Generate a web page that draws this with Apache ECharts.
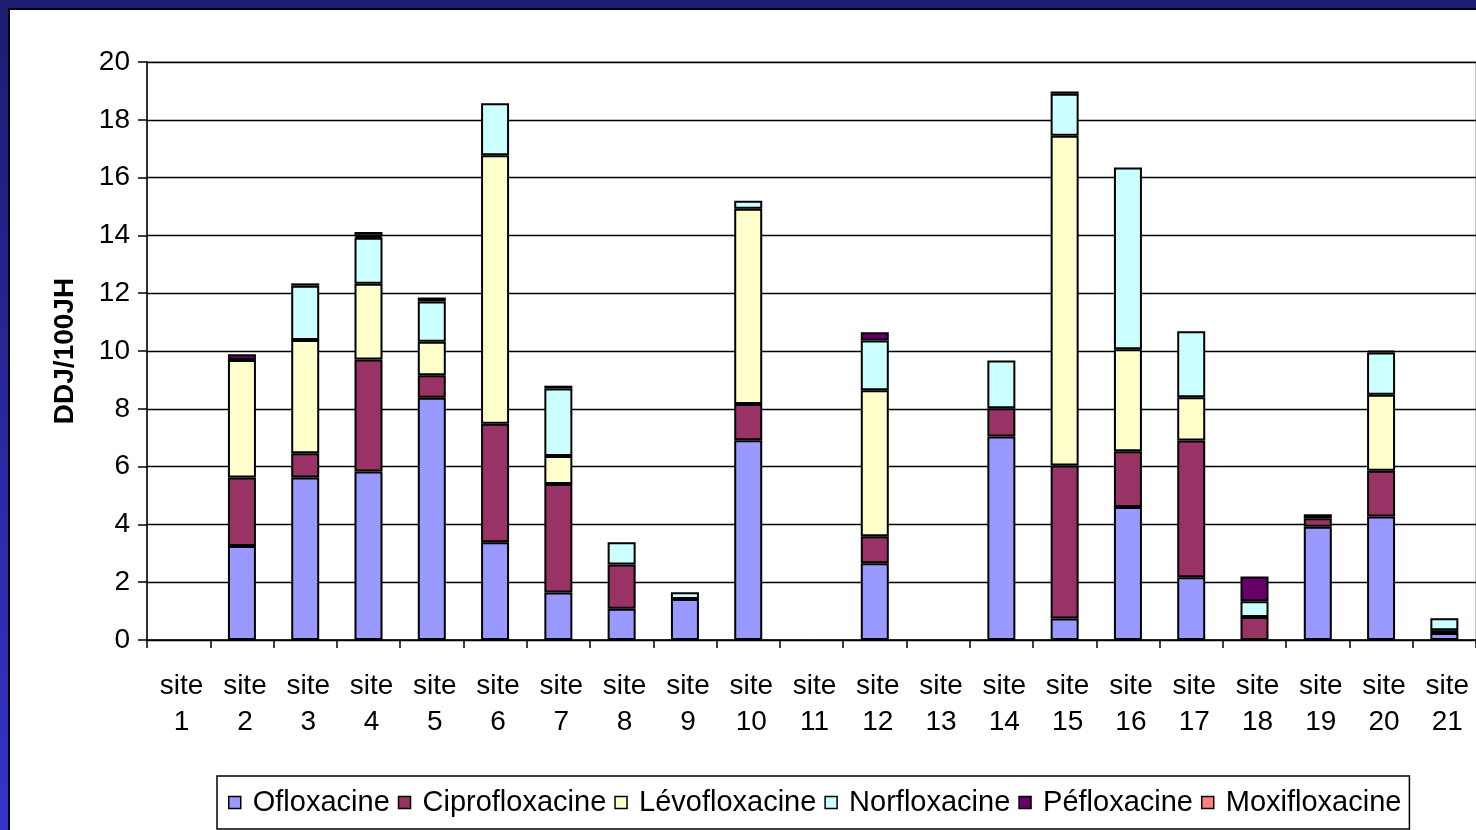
<!DOCTYPE html>
<html>
<head>
<meta charset="utf-8">
<script src="https://cdn.jsdelivr.net/npm/echarts@6/dist/echarts.min.js"></script>
<style>
  html, body { margin: 0; padding: 0; width: 1476px; height: 830px; overflow: hidden; }
  #frame { position: absolute; left: 0; top: 0; width: 1476px; height: 830px;
           background: linear-gradient(to bottom, #1c1c72 0%, #2a2aa6 60%, #3434cc 100%); }
  #sheet { position: absolute; left: 8px; top: 8px; right: 0; bottom: 0;
           border-left: 2px solid #000; border-top: 2px solid #000; background: #fff; }
  #chart { position: absolute; left: 0; top: 0; width: 1476px; height: 830px; }
</style>
</head>
<body>
<div id="frame"><div id="sheet"></div></div>
<div id="chart"></div>
<script>
// Fluoroquinolone consumption per site (DDJ / 100 JH)
const sites = ['site 1', 'site 2', 'site 3', 'site 4', 'site 5', 'site 6', 'site 7',
  'site 8', 'site 9', 'site 10', 'site 11', 'site 12', 'site 13', 'site 14',
  'site 15', 'site 16', 'site 17', 'site 18', 'site 19', 'site 20', 'site 21'];

const ofloxacine      = [0, 3.25, 5.62, 5.83, 8.38, 3.38, 1.64, 1.08, 1.42, 6.91, 0, 2.66, 0, 7.04, 0.74, 4.60, 2.17, 0, 3.92, 4.27, 0.24];
const ciprofloxacine  = [0, 2.37, 0.84, 3.88, 0.78, 4.10, 3.76, 1.53, 0, 1.26, 0, 0.93, 0, 0.98, 5.30, 1.93, 4.73, 0.80, 0.29, 1.59, 0.10];
const levofloxacine   = [0, 4.07, 3.92, 2.62, 1.16, 9.29, 0.97, 0, 0, 6.75, 0, 5.05, 0, 0, 11.41, 3.53, 1.50, 0, 0, 2.63, 0];
const norfloxacine    = [0, 0, 1.88, 1.59, 1.39, 1.80, 2.33, 0.77, 0.23, 0.28, 0, 1.72, 0, 1.65, 1.45, 6.29, 2.28, 0.54, 0.14, 1.46, 0.41];
const pefloxacine     = [0, 0.20, 0.08, 0.05, 0.14, 0, 0.10, 0, 0, 0, 0, 0.29, 0, 0, 0.08, 0, 0, 0.86, 0, 0.06, 0];
const moxifloxacine   = [0, 0, 0, 0.15, 0, 0, 0, 0, 0, 0, 0, 0, 0, 0, 0, 0, 0, 0, 0, 0, 0];

const yTicks = { min: 0, max: 20, interval: 2 };
const yTitle = 'DDJ/100JH';

const seriesDefs = [
  { name: 'Ofloxacine',     data: ofloxacine,     color: '#9999ff' },
  { name: 'Ciprofloxacine', data: ciprofloxacine, color: '#993366' },
  { name: 'Lévofloxacine',  data: levofloxacine,  color: '#ffffcc' },
  { name: 'Norfloxacine',   data: norfloxacine,   color: '#ccffff' },
  { name: 'Péfloxacine',    data: pefloxacine,    color: '#660066' },
  { name: 'Moxifloxacine',  data: moxifloxacine,  color: '#ff8080' }
];

const FONT = '"Liberation Sans", Arial, sans-serif';
const chart = echarts.init(document.getElementById('chart'), null, { renderer: 'canvas' });

chart.setOption({
  animation: false,
  textStyle: { fontFamily: FONT, color: '#000' },
  grid: {
    left: 147, top: 62, width: 1329, height: 578,
    containLabel: false, outerBoundsMode: 'none',
    show: true, borderColor: '#808080', borderWidth: 1
  },
  legend: {
    left: 217, top: 776,
    padding: [12, 8, 12, 11],
    borderColor: '#000', borderWidth: 1.5,
    backgroundColor: '#fff',
    itemWidth: 12, itemHeight: 12, itemGap: 8,
    icon: 'rect',
    itemStyle: { borderColor: '#000', borderWidth: 1.5 },
    textStyle: { fontFamily: FONT, fontSize: 29, color: '#000', padding: [2, 0, 0, 7] },
    data: seriesDefs.map(s => ({
      name: s.name,
      itemStyle: { color: s.color, borderColor: '#000', borderWidth: 1.5 }
    }))
  },
  xAxis: {
    type: 'category',
    data: sites,
    boundaryGap: true,
    axisLine: { lineStyle: { color: '#000', width: 1.5 } },
    axisTick: { show: true, length: 8, lineStyle: { color: '#000', width: 1.5 } },
    axisLabel: {
      interval: 0, margin: 28,
      fontFamily: FONT, fontSize: 28, lineHeight: 36, color: '#000',
      padding: [0, 0, 0, 6],
      formatter: v => v.replace(' ', '\n')
    },
    splitLine: { show: false }
  },
  yAxis: {
    type: 'value',
    min: yTicks.min, max: yTicks.max, interval: yTicks.interval,
    name: yTitle,
    nameLocation: 'middle',
    nameRotate: 90,
    nameGap: 68,
    nameTextStyle: { fontFamily: FONT, fontSize: 28, fontWeight: 'bold', color: '#000' },
    axisLine: { show: true, lineStyle: { color: '#000', width: 1.5 } },
    axisTick: { show: true, length: 9, lineStyle: { color: '#000', width: 1.5 } },
    axisLabel: { margin: 17, fontFamily: FONT, fontSize: 28, color: '#000', padding: [4, 0, 0, 0] },
    splitLine: { show: true, lineStyle: { color: '#000', width: 1.4 } }
  },
  series: seriesDefs.map(s => ({
    name: s.name,
    type: 'bar',
    stack: 'total',
    barWidth: 28,
    data: s.data.map(v => (v === 0 ? '-' : v)),
    itemStyle: { color: s.color, borderColor: '#000', borderWidth: 2 },
    emphasis: { disabled: true }
  }))
});
</script>
</body>
</html>
